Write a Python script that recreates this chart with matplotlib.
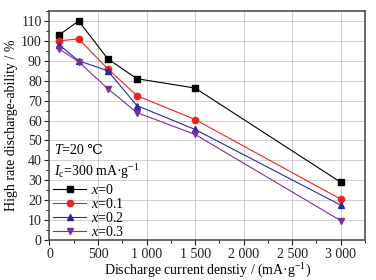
import matplotlib
matplotlib.use("Agg")
import matplotlib.pyplot as plt
from matplotlib.ticker import MultipleLocator, FuncFormatter

plt.rcParams["font.family"] = ["Liberation Serif", "DejaVu Serif"]
plt.rcParams["mathtext.fontset"] = "custom"
plt.rcParams["mathtext.rm"] = "Liberation Serif"
plt.rcParams["mathtext.it"] = "Liberation Serif:italic"

# ===================== Data =====================
current = [100, 300, 600, 900, 1500, 3000]
hrd_x0 = [103, 110, 91, 81, 76.3, 29]
hrd_x01 = [100, 101, 86, 72.5, 60.5, 20.5]
hrd_x02 = [98, 90, 85, 67.5, 55.5, 17.5]
hrd_x03 = [96, 89.5, 76, 64, 53, 9.7]
labels = ["$x$=0", "$x$=0.1", "$x$=0.2", "$x$=0.3"]

series = [
    (hrd_x0, "black", "s"),
    (hrd_x01, "#f02020", "o"),
    (hrd_x02, "#2a2aa0", "^"),
    (hrd_x03, "#7a2f9c", "v"),
]

# ===================== Plot =====================
fig = plt.figure(figsize=(3.76, 2.8), dpi=100)
ax = fig.add_axes([49.5 / 376, 40 / 280, (365 - 49.5) / 376, (269 - 40) / 280])

for (vals, col, mk), lab in zip(series, labels):
    ax.plot(current, vals, color=col, marker=mk, ms=4.5, lw=0.8, label=lab)

ax.set_xlim(0, 3250)
ax.set_ylim(0, 115)
ax.xaxis.set_major_locator(MultipleLocator(500))
ax.xaxis.set_minor_locator(MultipleLocator(250))
ax.yaxis.set_major_locator(MultipleLocator(10))
ax.yaxis.set_minor_locator(MultipleLocator(5))
ax.xaxis.set_major_formatter(FuncFormatter(
    lambda v, p: f"{int(v):,}".replace(",", " ")))

ax.grid(True, which="major", color="#c8c8c8", lw=0.6)
ax.set_axisbelow(True)
for s in ax.spines.values():
    s.set_color("#505050")
    s.set_linewidth(1.2)
ax.tick_params(which="major", length=3.5, width=0.8, labelsize=10, pad=2,
               colors="#202020")
ax.tick_params(which="minor", length=2, width=0.6)

ax.set_xlabel("Discharge current denstiy / (mA·g$^{-1}$)", fontsize=10, labelpad=1)
ax.set_ylabel("High rate discharge-ability / %", fontsize=10, labelpad=2)

# T=20 ℃ (℃ drawn as plain text so the font fallback works)
t_txt = ax.text(0.015, 0.39, "T", transform=ax.transAxes, fontsize=10,
                style="italic", ha="left", va="center")
ax.annotate("=20 ℃", xy=(1, 0), xycoords=t_txt, fontsize=10,
            ha="left", va="bottom")
ax.text(0.015, 0.30, "$I_{\\rm c}$=300 mA·g$^{-1}$", transform=ax.transAxes,
        fontsize=10, ha="left", va="center")

ax.legend(loc="lower left", bbox_to_anchor=(-0.015, -0.03), frameon=False,
          fontsize=10, handlelength=2.4, handletextpad=0.3,
          labelspacing=0.0, borderaxespad=0.2)

fig.savefig("out.png", dpi=100)
